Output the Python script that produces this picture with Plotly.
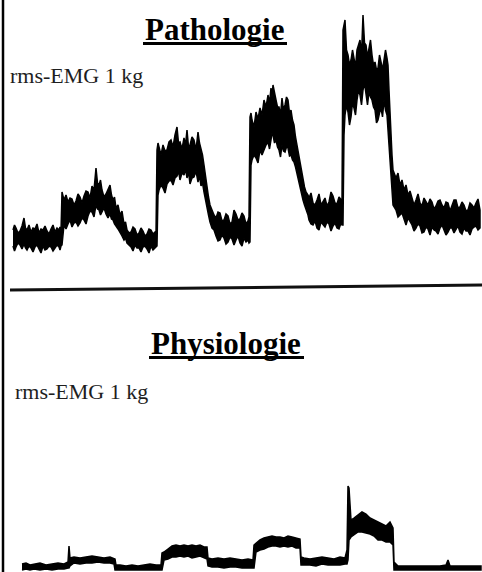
import plotly.graph_objects as go

W, H = 482, 572

# ---------------- data (time in samples, amplitude in a.u.) ----------------
# Pathologie trace: time, upper envelope, lower envelope of the rms-EMG band
patho_t = [0, 1.5, 3, 5, 7, 9, 11, 12.5, 14, 16, 18, 20, 22, 24, 26, 28, 30, 32, 34, 36, 38, 40, 42, 44, 46, 47, 48,
           49, 51, 53, 55, 57, 59, 61, 63, 65, 67, 69, 71, 73, 75, 77, 79, 81, 83, 84.5, 86, 87.5, 89, 91, 93, 95, 97,
           98.5, 100, 101.5, 103, 105, 107, 109, 111, 112.5, 114,
           116, 118, 120, 122, 124, 126, 128, 130, 132, 134, 136, 138, 140, 142, 143,
           144, 145, 146, 148, 150, 152, 154, 156, 158, 160, 162, 164, 165.5, 167, 169, 171, 172.5, 174, 175.5, 177,
           179, 181, 183, 185, 186.5, 188, 189.5, 191, 192.5, 194, 195.5, 197,
           199, 201, 203, 205, 207, 209, 211, 213, 215, 217, 219, 221, 223, 225, 227, 229, 231, 233, 235, 236,
           237, 238, 239, 241, 243, 245, 247, 249, 251, 253, 255, 256.5, 258, 259, 260, 261.5, 263, 264.5, 266, 267.5,
           269, 270.5, 272, 273.5, 275, 276.5, 278, 279.5, 281, 282.5, 284, 285.5, 287, 288.5, 290, 291.5, 293,
           295, 296, 298, 300, 302, 304, 306, 308, 310, 312, 314, 316, 318, 320, 322, 324, 326, 328, 329,
           330, 331, 332, 333.5, 335, 336.5, 338, 339.5, 341, 342.5, 344, 345.5, 347, 348.5, 350, 351.5, 353, 354.5,
           356, 357.5, 359, 360.5, 362, 363.5, 365, 366.5, 368, 369.5, 371, 372.5, 374, 375, 376, 377, 378, 379, 380,
           383, 385, 387, 389, 391, 393, 395, 397, 399, 401, 403, 405, 407, 409, 411, 413, 415, 417, 419, 421, 423,
           425, 427, 429, 431, 433, 435, 437, 439, 441, 443, 445, 447, 449, 451, 453, 455, 457, 459, 461, 463, 465, 467]
patho_upper = [25, 30, 27, 22, 24, 29, 37, 27, 25, 30, 23, 27, 26, 31, 22, 26, 25, 29, 24, 21, 26, 30, 23, 27, 25, 28, 24,
               63, 55, 60, 53, 57, 56, 50, 54, 61, 58, 52, 59, 64, 63, 57, 69, 65, 87, 72, 70, 75, 65, 58, 61, 66, 70,
               60, 55, 58, 47, 50, 40, 44, 31, 33, 25,
               22, 23, 28, 26, 20, 22, 27, 24, 19, 21, 26, 25, 21, 23, 22,
               105, 112, 107, 100, 110, 104, 105, 113, 115, 108, 120, 128, 112, 113, 106, 117, 110, 125, 108, 110,
               118, 115, 105, 123, 112, 107, 100, 90, 78, 65, 58, 50,
               44, 40, 37, 43, 42, 34, 35, 41, 39, 31, 33, 45, 41, 35, 36, 42, 39, 31, 34, 38,
               138, 142, 135, 128, 143, 136, 147, 140, 155, 148, 160, 152, 167, 158, 170, 160, 155, 148, 148, 140,
               157, 145, 150, 158, 155, 142, 145, 135, 130, 118, 110, 100, 90, 82, 75, 68, 63,
               60, 57, 62, 52, 50, 55, 61, 50, 53, 57, 49, 53, 63, 59, 52, 51, 58, 55, 54,
               225, 232, 235, 205, 200, 190, 195, 205, 197, 188, 205, 210, 215, 200, 240, 212, 210, 198,
               205, 215, 200, 190, 193, 185, 187, 200, 193, 185, 195, 205, 197, 190, 165, 140, 125, 100, 85,
               77, 82, 70, 75, 65, 70, 60, 64, 57, 50, 55, 61, 52, 49, 57, 53, 50, 56, 53, 46, 49,
               54, 55, 50, 47, 53, 52, 44, 49, 55, 55, 47, 48, 53, 50, 44, 45, 52, 50, 47, 52, 56, 45]
patho_lower = [9, 4, 8, 12, 10, 6, 11, 7, 5, 9, 7, 3, 8, 10, 6, 2, 9, 5, 6, 9, 8, 4, 7, 10, 8, 5, 9,
               10, 30, 26, 31, 35, 28, 32, 33, 29, 32, 37, 35, 31, 39, 44, 43, 38, 50, 46, 45, 40, 43, 47, 41, 37, 41,
               36, 35, 31, 29, 26, 23, 19, 15, 17, 12,
               10, 8, 4, 10, 7, 7, 3, 8, 9, 6, 2, 9, 5, 7, 8,
               9, 60, 65, 70, 67, 62, 71, 74, 75, 70, 77, 79, 84, 75, 82, 80, 86, 77, 83, 71,
               77, 78, 84, 73, 79, 69, 72, 63, 55, 47, 40, 33,
               27, 25, 19, 14, 15, 20, 17, 11, 13, 18, 16, 10, 15, 19, 12, 9, 17, 13, 15, 12,
               13, 90, 95, 100, 97, 92, 105, 100, 105, 110, 113, 106, 115, 122, 120, 112, 115, 108, 105, 98,
               110, 104, 103, 108, 107, 99, 100, 95, 93, 88, 83, 76, 70, 62, 55, 50, 45,
               40, 35, 31, 30, 34, 27, 25, 33, 30, 28, 33, 31, 24, 29, 32, 27, 26, 32, 30,
               30, 120, 140, 150, 143, 130, 138, 152, 147, 140, 155, 165, 160, 150, 165, 172, 160, 150,
               163, 158, 155, 148, 145, 132, 135, 142, 147, 138, 155, 145, 140, 132, 120, 100, 80, 65, 50,
               45, 38, 40, 42, 35, 30, 37, 34, 30, 24, 27, 31, 29, 22, 23, 28, 26, 20, 28, 25, 24,
               21, 27, 30, 25, 20, 23, 27, 27, 22, 25, 29, 23, 21, 27, 24, 24, 20, 26, 28, 29, 25, 27]

# Physiologie trace
physio_t = [9, 13, 17, 21, 27, 33, 39, 45, 51, 55,
            56, 57, 61, 67, 73, 79, 85, 91, 97, 101,
            102, 103, 107, 113, 119, 125, 131, 137, 143, 148,
            149, 151, 155, 159, 163, 167, 171, 175, 179, 183, 187, 191, 194,
            195, 199, 205, 211, 217, 223, 229, 235, 240,
            241, 243, 247, 251, 255, 259, 263, 267, 271, 275, 279, 283, 287,
            288, 291, 297, 303, 309, 315, 321, 327, 332, 334,
            335, 336, 338, 341, 345, 349, 353, 357, 361, 365, 369, 373, 377, 380,
            381, 385, 391, 397, 407, 417, 427, 433, 435, 437, 447, 457, 468]
physio_upper = [8, 9, 7, 8, 9, 7, 8, 9, 8, 10,
                26, 14, 15, 14, 15, 16, 15, 14, 15, 14,
                13, 7, 7, 6, 7, 6, 7, 8, 7, 7,
                19, 20, 23, 26, 27, 26, 27, 26, 27, 26, 27, 25, 25,
                14, 13, 14, 13, 14, 13, 12, 13, 12,
                27, 29, 32, 34, 35, 36, 35, 35, 34, 36, 35, 34, 33,
                15, 14, 13, 14, 15, 14, 13, 15, 14, 22,
                86, 84, 52, 54, 57, 60, 58, 54, 52, 50, 48, 46, 50, 44,
                10, 6, 6, 6, 6, 6, 6, 7, 12, 6, 6, 6, 6]
physio_lower = [2, 3, 2, 3, 2, 3, 2, 3, 3, 4,
                4, 6, 9, 8, 9, 9, 10, 9, 9, 8,
                2, 2, 2, 2, 2, 2, 2, 2, 2, 2,
                2, 12, 13, 15, 15, 16, 15, 16, 14, 15, 16, 14, 13,
                6, 5, 5, 4, 5, 5, 4, 4, 4,
                4, 20, 22, 23, 25, 26, 26, 25, 26, 25, 26, 24, 24,
                7, 7, 7, 6, 8, 7, 7, 7, 8, 8,
                12, 32, 35, 37, 40, 40, 39, 38, 36, 32, 32, 30, 30, 27,
                2, 2, 2, 2, 2, 2, 2, 2, 2, 2, 2, 2, 2]

assert len(patho_t) == len(patho_upper) == len(patho_lower), (len(patho_t), len(patho_upper), len(patho_lower))
assert len(physio_t) == len(physio_upper) == len(physio_lower)

titles = ["Pathologie", "Physiologie"]
channel_label = "rms-EMG 1 kg"

# ---------------- figure ----------------
def band(t, up, lo, yaxis):
    return go.Scatter(
        x=list(t) + list(t)[::-1],
        y=list(up) + list(lo)[::-1],
        mode="lines", fill="toself",
        fillcolor="#000000",
        line=dict(color="#000000", width=1.5),
        yaxis=yaxis, hoverinfo="skip", showlegend=False)

fig = go.Figure()
fig.add_trace(band(patho_t, patho_upper, patho_lower, "y"))
fig.add_trace(band(physio_t, physio_upper, physio_lower, "y2"))

def px_x(v):
    return v / W

def px_y(v):
    return 1 - v / H

serif = "Liberation Serif, Times New Roman, serif"

fig.update_layout(
    width=W, height=H,
    margin=dict(l=0, r=0, t=0, b=0),
    paper_bgcolor="white", plot_bgcolor="white",
    xaxis=dict(range=[-13, 469], visible=False, fixedrange=True),
    yaxis=dict(range=[-25, 255], domain=[1 - 280 / H, 1], visible=False),
    yaxis2=dict(range=[0, 272], domain=[0, 272 / H], visible=False),
    showlegend=False,
    annotations=[
        dict(text="<b>" + titles[0] + "</b>", x=px_x(215), y=px_y(29),
             xref="paper", yref="paper", xanchor="center", yanchor="middle",
             showarrow=False, font=dict(family=serif, size=31, color="#000")),
        dict(text="<b>" + titles[1] + "</b>", x=px_x(226), y=px_y(343),
             xref="paper", yref="paper", xanchor="center", yanchor="middle",
             showarrow=False, font=dict(family=serif, size=31, color="#000")),
        dict(text=channel_label, x=px_x(8), y=px_y(75),
             xref="paper", yref="paper", xanchor="left", yanchor="middle",
             showarrow=False, font=dict(family=serif, size=22, color="#1e1e1e")),
        dict(text=channel_label, x=px_x(13), y=px_y(391),
             xref="paper", yref="paper", xanchor="left", yanchor="middle",
             showarrow=False, font=dict(family=serif, size=22, color="#1e1e1e")),
    ],
    shapes=[
        # left frame line
        dict(type="line", xref="paper", yref="paper", x0=px_x(3), x1=px_x(3), y0=0, y1=1,
             line=dict(color="#000", width=2.5)),
        # divider between panels
        dict(type="line", xref="paper", yref="paper", x0=px_x(10), x1=1, y0=px_y(290), y1=px_y(285),
             line=dict(color="#111", width=3)),
        # title underlines
        dict(type="line", xref="paper", yref="paper", x0=px_x(143), x1=px_x(287),
             y0=px_y(43.5), y1=px_y(43.5), line=dict(color="#000", width=3)),
        dict(type="line", xref="paper", yref="paper", x0=px_x(149), x1=px_x(304),
             y0=px_y(357.5), y1=px_y(357.5), line=dict(color="#000", width=3)),
    ],
)

fig.write_html("out.html", config={"displayModeBar": False},
               post_script="document.body.style.margin='0';document.body.style.padding='0';")
